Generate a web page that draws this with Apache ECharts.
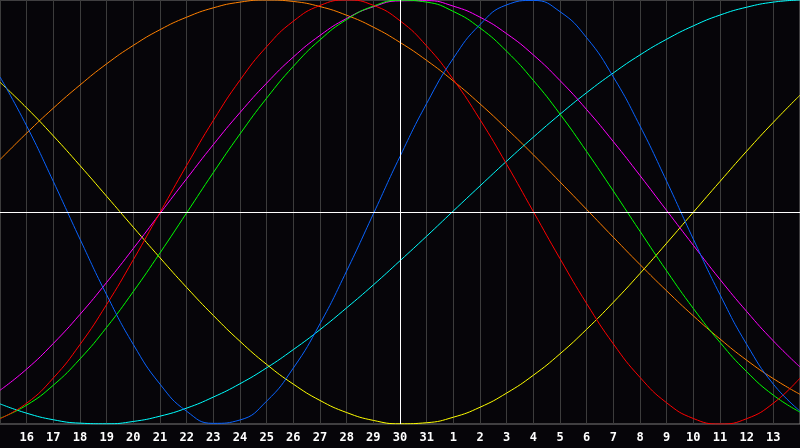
<!DOCTYPE html>
<html lang="en">
<head>
  <meta charset="UTF-8">
  <title>Biorhythm</title>
  <script src="https://cdn.jsdelivr.net/npm/echarts@6/dist/echarts.min.js"></script>
  <style>
    html, body { margin: 0; padding: 0; background: #060509; }
    #chart { width: 800px; height: 448px; }
  </style>
</head>
<body>
  <div id="chart"></div>
  <script>
    // day labels along the bottom (centre = today, the 30th)
    var days = ['15', '16', '17', '18', '19', '20', '21', '22', '23', '24', '25', '26', '27', '28', '29', '30',
      '31', '1', '2', '3', '4', '5', '6', '7', '8', '9', '10', '11', '12', '13', '14'];

    // cycle values, one per day
    var physical = [0.637, 0.406, 0.144, -0.128, -0.391, -0.625, -0.812, -0.940, -0.997, -0.981, -0.892,
      -0.736, -0.527, -0.278, -0.009, 0.262, 0.512, 0.725, 0.884, 0.977, 0.998, 0.945, 0.822, 0.637,
      0.406, 0.145, -0.128, -0.390, -0.624, -0.812, -0.939];
    var emotional = [-0.975, -0.902, -0.783, -0.625, -0.436, -0.225, -0.002, 0.220, 0.432, 0.622, 0.780,
      0.900, 0.974, 1.000, 0.975, 0.902, 0.783, 0.625, 0.436, 0.225, 0.002, -0.220, -0.432, -0.622,
      -0.780, -0.900, -0.974, -1.000, -0.975, -0.902, -0.783];
    var intellectual = [-0.973, -0.911, -0.817, -0.693, -0.544, -0.375, -0.193, -0.004, 0.186, 0.368, 0.537,
      0.687, 0.812, 0.908, 0.971, 0.999, 0.990, 0.946, 0.868, 0.758, 0.621, 0.462, 0.285, 0.099,
      -0.091, -0.278, -0.455, -0.615, -0.753, -0.864, -0.944];
    var intuitive = [-0.841, -0.741, -0.620, -0.483, -0.332, -0.172, -0.007, 0.157, 0.318, 0.469, 0.608,
      0.731, 0.833, 0.913, 0.968, 0.996, 0.997, 0.971, 0.919, 0.841, 0.741, 0.620, 0.483, 0.332,
      0.172, 0.007, -0.157, -0.318, -0.469, -0.608, -0.731];
    var aesthetic = [0.612, 0.491, 0.359, 0.219, 0.074, -0.072, -0.216, -0.356, -0.488, -0.610, -0.719,
      -0.812, -0.889, -0.946, -0.983, -0.999, -0.994, -0.968, -0.921, -0.854, -0.770, -0.669, -0.553,
      -0.426, -0.290, -0.147, -0.001, 0.144, 0.287, 0.423, 0.551];
    var awareness = [0.247, 0.372, 0.490, 0.599, 0.699, 0.786, 0.860, 0.919, 0.963, 0.990, 1.000,
      0.993, 0.969, 0.928, 0.872, 0.800, 0.715, 0.618, 0.510, 0.393, 0.270, 0.142, 0.012, -0.119,
      -0.248, -0.372, -0.490, -0.599, -0.699, -0.786, -0.860];
    var spiritual = [-0.905, -0.949, -0.980, -0.996, -0.999, -0.988, -0.963, -0.925, -0.873, -0.810, -0.735,
      -0.649, -0.555, -0.452, -0.344, -0.230, -0.114, 0.005, 0.123, 0.240, 0.353, 0.461, 0.563,
      0.656, 0.741, 0.815, 0.878, 0.929, 0.966, 0.990, 1.000];

    var chart = echarts.init(document.getElementById('chart'));

    function cycle(name, data, color) {
      return {
        name: name,
        type: 'line',
        data: data,
        smooth: true,
        showSymbol: false,
        silent: true,
        lineStyle: { color: color, width: 1 }
      };
    }

    var series = [
      cycle('Awareness', awareness, '#ff8000'),
      cycle('Spiritual', spiritual, '#00ffff'),
      cycle('Aesthetic', aesthetic, '#ffff00'),
      cycle('Intuitive', intuitive, '#ff00ff'),
      cycle('Intellectual', intellectual, '#00ff00'),
      cycle('Emotional', emotional, '#ff0000'),
      cycle('Physical', physical, '#0a64ff')
    ];
    // white cross through today / zero
    series[0].markLine = {
      silent: true,
      symbol: 'none',
      label: { show: false },
      lineStyle: { color: '#ffffff', width: 1, type: 'solid' },
      data: [{ xAxis: '30' }, { yAxis: 0 }]
    };

    chart.setOption({
      backgroundColor: '#060509',
      animation: false,
      grid: {
        left: 0, right: 0, top: 0, bottom: 24,
        show: true,
        borderColor: '#7a7a7a',
        borderWidth: 1
      },
      xAxis: {
        type: 'category',
        data: days,
        boundaryGap: false,
        axisLine: { lineStyle: { color: '#8a8a8a', width: 1 } },
        axisTick: { show: false },
        axisLabel: {
          color: '#ffffff',
          fontFamily: 'DejaVu Sans Mono',
          fontWeight: 'bold',
          fontSize: 12,
          margin: 8,
          interval: function (idx) { return idx > 0 && idx < days.length - 1; }
        },
        splitLine: { show: true, interval: 0, lineStyle: { color: '#3c3c3c', width: 1 } }
      },
      yAxis: {
        type: 'value',
        min: -1,
        max: 1,
        show: false,
        splitLine: { show: false }
      },
      series: series
    });
  </script>
</body>
</html>
